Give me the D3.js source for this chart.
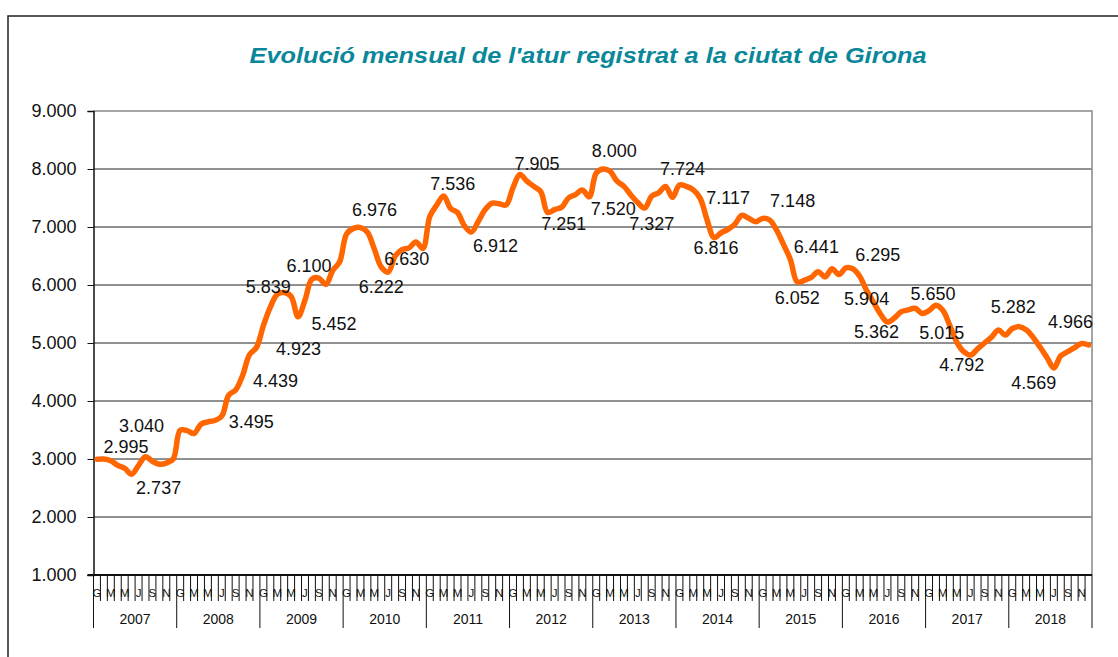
<!DOCTYPE html>
<html>
<head>
<meta charset="utf-8">
<script src="https://cdn.jsdelivr.net/npm/d3@7"></script>
<style>
  body { margin: 0; background: #fff; }
  svg { display: block; font-family: "Liberation Sans", Arial, sans-serif; }
</style>
</head>
<body>
<svg width="1118" height="657"></svg>
<script>
// anys i inicials dels mesos (només un de cada dos)
const years = [2007, 2008, 2009, 2010, 2011, 2012, 2013, 2014, 2015, 2016, 2017, 2018]
const monthLetters = ["G", "", "M", "", "M", "", "J", "", "S", "", "N", ""]
const yTicks = [1000, 2000, 3000, 4000, 5000, 6000, 7000, 8000, 9000]

// aturats registrats, gener 2007 - desembre 2018
const atur = [
  2995, 3000, 2970, 2890, 2840, 2737, 2890, 3040, 2960, 2910, 2930, 3000,
  3495, 3490, 3440, 3600, 3640, 3665, 3740, 4100, 4190, 4439, 4800, 4923,
  5300, 5620, 5839, 5870, 5800, 5452, 5740, 6100, 6120, 6010, 6250, 6400,
  6880, 6976, 6990, 6910, 6620, 6310, 6222, 6500, 6610, 6640, 6740, 6630,
  7180, 7380, 7536, 7320, 7250, 7020, 6912, 7100, 7300, 7410, 7400, 7380,
  7680, 7905, 7790, 7700, 7609, 7251, 7300, 7340, 7500, 7560, 7640, 7520,
  7930, 8000, 7960, 7790, 7700, 7550, 7420, 7327, 7530, 7590, 7700, 7511,
  7724, 7700, 7640, 7494, 7117, 6816, 6900, 6960, 7050, 7200, 7150, 7090,
  7148, 7120, 6950, 6700, 6441, 6052, 6080, 6130, 6230, 6140, 6280, 6180,
  6295, 6280, 6150, 5904, 5700, 5500, 5362, 5430, 5540, 5570, 5598, 5510,
  5560, 5650, 5560, 5300, 5015, 4850, 4792, 4900, 5000, 5100, 5224, 5138,
  5250, 5282, 5230, 5100, 4930, 4750, 4569, 4780, 4850, 4920, 4990, 4966
]

// mesos amb etiqueta de valor
const labelMonths = [0, 5, 7, 12, 21, 23, 26, 31, 29, 37, 42, 47, 50, 54, 61, 65, 73,
  71, 79, 84, 88, 89, 96, 100, 101, 108, 111, 114, 121, 124, 126, 133, 138, 143]
// desplaçament de cada etiqueta respecte del punt (layout)
const labelShift = [[29,-13],[27,13],[-4,-31],[71,-9],[33,5],[42,1],[-9,-8],[-3,-14],[36,7],
  [21,-19],[-7,14],[-16,10],[9,-12],[24,13],[17,-11],[16,11],[11,-18],[24,12],[7,15],[3,-16],
  [21,-23],[2,10],[30,-18],[26,-13],[0,16],[32,-13],[0,8],[-11,10],[-3,-12],[-15,-10],
  [-9,9],[-6,-20],[-20,15],[-18,-23]]

const svg = d3.select("svg")
const pl = 93.5, pr = 1092, pt = 111, pb = 575

const fmt = d3.formatLocale({decimal: ",", thousands: ".", grouping: [3], currency: ["", ""]}).format(",.0f")

const x = d3.scaleLinear().domain([0, atur.length]).range([pl, pr])
const y = d3.scaleLinear().domain([1000, 9000]).range([pb, pt])

// marc exterior
svg.append("path")
  .attr("d", "M8,657 L8,16 L1118,16")
  .attr("fill", "none").attr("stroke", "#222").attr("stroke-width", 1.5)

svg.append("text")
  .attr("x", 588).attr("y", 63)
  .attr("text-anchor", "middle")
  .attr("font-size", 22).attr("font-weight", "bold").attr("font-style", "italic")
  .attr("textLength", 677).attr("lengthAdjust", "spacingAndGlyphs")
  .attr("fill", "#0a8799")
  .text("Evolució mensual de l'atur registrat a la ciutat de Girona")

// línies de graella
svg.append("g")
  .selectAll("line")
  .data(yTicks.slice(1, -1))
  .enter().append("line")
  .attr("x1", pl).attr("x2", pr)
  .attr("y1", d => y(d)).attr("y2", d => y(d))
  .attr("stroke", "#222").attr("stroke-width", 1)

svg.append("path")
  .attr("d", `M${pl},${pt} L${pr},${pt} L${pr},${pb}`)
  .attr("fill", "none").attr("stroke", "#888").attr("stroke-width", 1.5)

// eix Y
const yAxis = svg.append("g")
  .attr("transform", `translate(${pl},0)`)
  .call(d3.axisLeft(y).tickValues(yTicks).tickFormat(fmt).tickSize(6).tickPadding(11))
yAxis.select(".domain").attr("stroke", "#111").attr("stroke-width", 1.5)
yAxis.selectAll(".tick line").attr("stroke", "#111")
yAxis.selectAll("text").attr("font-size", 18).attr("fill", "#111")
  .attr("font-family", "Liberation Sans, Arial, sans-serif")

// eix X: marques de mes
const months = d3.range(atur.length)
const xa = svg.append("g")
xa.selectAll("line.m")
  .data(d3.range(atur.length + 1))
  .enter().append("line")
  .attr("x1", d => x(d)).attr("x2", d => x(d))
  .attr("y1", pb).attr("y2", d => d % 12 === 0 ? 628 : 601)
  .attr("stroke", "#111").attr("stroke-width", 1)
xa.selectAll("text.m")
  .data(months.filter(d => monthLetters[d % 12] !== ""))
  .enter().append("text")
  .attr("x", d => x(d + 0.5)).attr("y", 597)
  .attr("text-anchor", "middle").attr("font-size", 11.5).attr("fill", "#111")
  .text(d => monthLetters[d % 12])
xa.selectAll("text.y")
  .data(years)
  .enter().append("text")
  .attr("x", (d, i) => x(i * 12 + 6)).attr("y", 624)
  .attr("text-anchor", "middle").attr("font-size", 14).attr("fill", "#111")
  .text(d => d)
xa.append("line")
  .attr("x1", pl - 6).attr("x2", pr)
  .attr("y1", pb).attr("y2", pb)
  .attr("stroke", "#111").attr("stroke-width", 2)

// línia de dades
const line = d3.line()
  .x((d, i) => x(i + 0.5))
  .y(d => y(d))
  .curve(d3.curveCatmullRom.alpha(0.5))

svg.append("path")
  .datum(atur)
  .attr("d", line)
  .attr("fill", "none")
  .attr("stroke", "#ff6600")
  .attr("stroke-width", 5.5)
  .attr("stroke-linejoin", "round")
  .attr("stroke-linecap", "round")

// etiquetes de valor
svg.append("g")
  .selectAll("text")
  .data(labelMonths)
  .enter().append("text")
  .attr("x", (d, i) => x(d + 0.5) + labelShift[i][0])
  .attr("y", (d, i) => y(atur[d]) + labelShift[i][1])
  .attr("dy", "0.36em")
  .attr("text-anchor", "middle")
  .attr("font-size", 18).attr("fill", "#111")
  .text(d => fmt(atur[d]))
</script>
</body>
</html>
